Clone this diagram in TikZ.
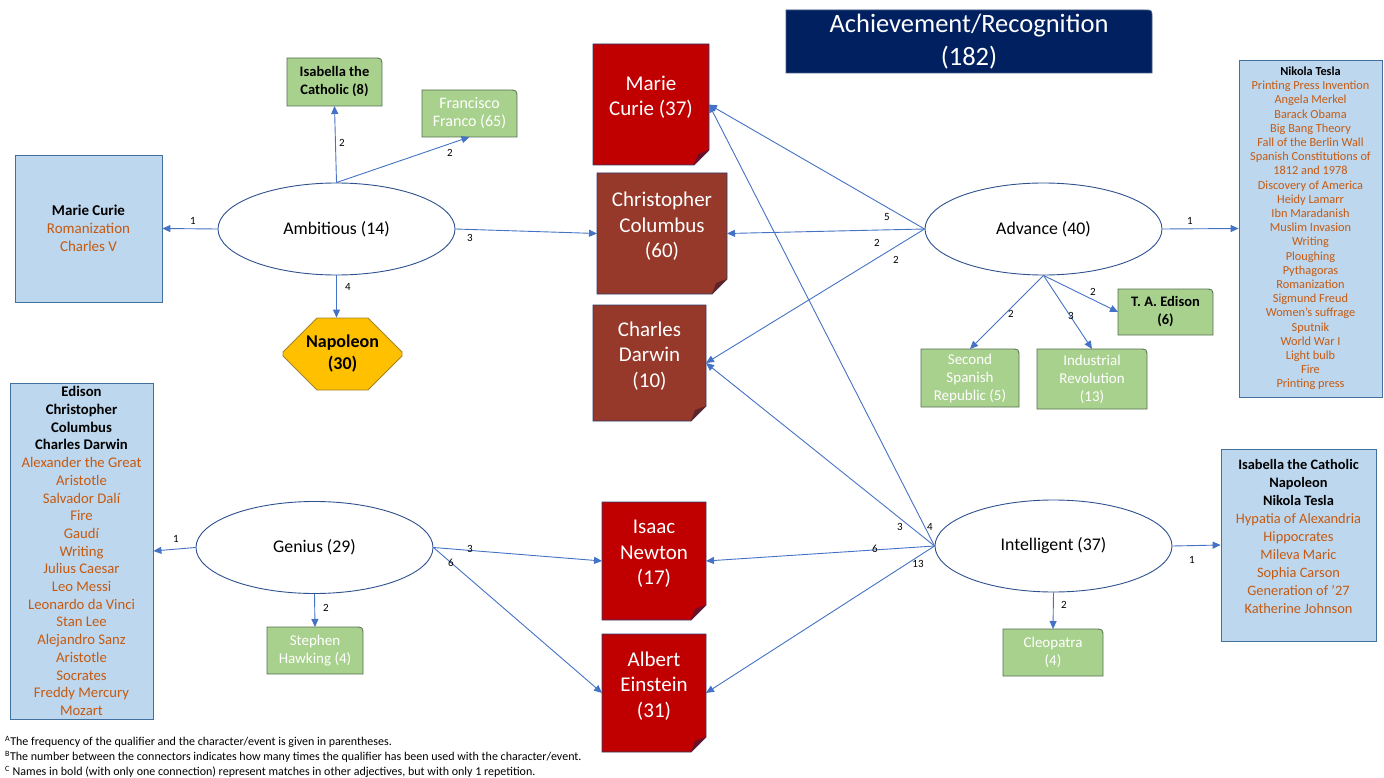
\documentclass[tikz,border=0pt]{standalone}
\usepackage{fontspec}
\setmainfont{Carlito}
\usetikzlibrary{shapes.geometric,shapes.misc,arrows.meta,backgrounds}

\definecolor{connblue}{RGB}{68,114,196}
\definecolor{ellline}{RGB}{47,82,143}
\definecolor{listfill}{RGB}{189,215,238}
\definecolor{listline}{RGB}{65,113,156}
\definecolor{listtxt}{RGB}{197,90,17}
\definecolor{greenfill}{RGB}{169,209,142}
\definecolor{greenline}{RGB}{84,110,80}
\definecolor{notered}{RGB}{192,0,0}
\definecolor{notebrown}{RGB}{150,56,42}
\definecolor{noteline}{RGB}{47,62,110}
\definecolor{foldred}{RGB}{110,15,40}
\definecolor{foldbrown}{RGB}{95,35,40}
\definecolor{napfill}{RGB}{255,192,0}
\definecolor{napline}{RGB}{160,130,40}
\definecolor{titlefill}{RGB}{0,32,96}
\definecolor{titleline}{RGB}{70,90,130}

% extra depth under the last line, so the text sits above the middle
\newcommand{\liftgap}{\rule[-17pt]{0pt}{17pt}}

\tikzset{
  adj/.style={shape=ellipse, draw=ellline, fill=white, line width=0.9pt, minimum width=237pt, minimum height=92pt, inner sep=0pt, font=\fontsize{17.8}{21}\selectfont},
  note/.style={shape=rectangle, inner sep=0pt, outer sep=0pt, text=white, align=center, font=\fontsize{21}{25.5}\selectfont},
  listbox/.style={shape=rectangle, draw=listline, fill=listfill, line width=0.8pt, text=listtxt, align=center, inner sep=0pt},
  greenbox/.style={shape=rectangle, inner sep=0pt, outer sep=0pt, align=center, text=white, font=\fontsize{15}{18}\selectfont},
  greenshape/.style={fill=greenfill, draw=greenline, line width=0.8pt},
  titlebox/.style={shape=rectangle, inner sep=0pt, outer sep=0pt, align=center, text=white, minimum width=366pt, minimum height=63pt, font=\fontsize{26.5}{33}\selectfont},
  titleshape/.style={fill=titlefill, draw=titleline, line width=0.8pt},
  octa/.style={shape=chamfered rectangle, chamfered rectangle xsep=17pt, chamfered rectangle ysep=17pt, fill=napfill, draw=napline, line width=0.8pt, minimum width=119pt, minimum height=72pt, inner sep=0pt, align=center, font=\bfseries\fontsize{18}{22}\selectfont},
  link/.style={draw=connblue, line width=0.9pt, -{Triangle[length=8pt,width=7pt]}},
  num/.style={inner sep=0pt, font=\fontsize{11}{12}\selectfont},
}

\begin{document}
\begin{tikzpicture}[x=1pt, y=1pt]
\useasboundingbox (0,0) rectangle (1384,-778);

% title
\node[titlebox] (title) at (969,-41.5) {Achievement/Recognition\\(182)};

% adjectives
\node[adj] (amb) at (336.5,-229) {Ambitious (14)};
\node[adj] (adv) at (1043.5,-229) {Advance (40)};
\node[adj] (gen) at (314.5,-547.5) {Genius (29)};
\node[adj] (intel) at (1053.5,-546) {Intelligent (37)};

% characters with many qualifiers
\node[note, minimum width=116pt, minimum height=121pt] (curie) at (651,-104.5) {Marie\\Curie (37)\liftgap};
\node[note, minimum width=130pt, minimum height=121pt] (columbus) at (662,-233.5) {Christopher\\Columbus\\(60)\liftgap};
\node[note, minimum width=113pt, minimum height=116pt] (darwin) at (649.5,-363) {Charles\\Darwin\\(10)\liftgap};
\node[note, minimum width=104pt, minimum height=118pt] (newton) at (654,-561) {Isaac\\Newton\\(17)\liftgap};
\node[note, minimum width=104pt, minimum height=118pt] (einstein) at (654,-693) {Albert\\Einstein\\(31)\liftgap};

\node[octa] (nap) at (342.5,-354) {Napoleon\\(30)};

% green boxes
\node[greenbox, minimum width=95pt, minimum height=48pt, text=black, font=\bfseries\fontsize{14.5}{18}\selectfont] (isab) at (334.5,-82) {Isabella the\\Catholic (8)};
\node[greenbox, minimum width=95pt, minimum height=47pt, font=\fontsize{16}{18}\selectfont] (franco) at (469.5,-113.5) {Francisco\\Franco (65)};
\node[greenbox, minimum width=95pt, minimum height=46pt, text=black, font=\bfseries\fontsize{14.5}{18}\selectfont] (edison) at (1165.5,-312) {T. A. Edison\\(6)};
\node[greenbox, minimum width=98pt, minimum height=58pt] (spanish) at (970,-378) {Second\\Spanish\\Republic (5)};
\node[greenbox, minimum width=110pt, minimum height=60pt] (industrial) at (1092,-379) {Industrial\\Revolution\\(13)};
\node[greenbox, minimum width=100pt, minimum height=47pt] (cleo) at (1053,-652.5) {Cleopatra\\(4)};
\node[greenbox, minimum width=96pt, minimum height=47pt] (hawking) at (315,-650.5) {Stephen\\Hawking (4)};

% lists
\node[listbox, minimum width=147pt, minimum height=147pt, font=\fontsize{15}{18}\selectfont] (ambList) at (88.5,-228.5)
  {{\color{black}\bfseries Marie Curie}\\Romanization\\Charles V};
\node[listbox, minimum width=143pt, minimum height=337pt, font=\fontsize{12.3}{14.2}\selectfont] (advList) at (1310.5,-228.5)
  {{\color{black}\bfseries Nikola Tesla}\\Printing Press Invention\\Angela Merkel\\Barack Obama\\Big Bang Theory\\Fall of the Berlin Wall\\Spanish Constitutions of\\1812 and 1978\\Discovery of America\\Heidy Lamarr\\Ibn Maradanish\\Muslim Invasion\\Writing\\Ploughing\\Pythagoras\\Romanization\\Sigmund Freud\\Women’s suffrage\\Sputnik\\World War I\\Light bulb\\Fire\\Printing press};
\node[listbox, minimum width=155pt, minimum height=192pt, font=\fontsize{14.4}{17.9}\selectfont] (intelList) at (1298.5,-545)
  {{\color{black}\bfseries Isabella the Catholic}\\{\color{black}\bfseries Napoleon}\\{\color{black}\bfseries Nikola Tesla}\\Hypatia of Alexandria\\Hippocrates\\Mileva Maric\\Sophia Carson\\Generation of ’27\\Katherine Johnson\liftgap};
\node[listbox, minimum width=143pt, minimum height=336pt, font=\fontsize{14.7}{17.7}\selectfont] (genList) at (81.5,-551)
  {{\color{black}\bfseries Edison}\\{\color{black}\bfseries Christopher}\\{\color{black}\bfseries Columbus}\\{\color{black}\bfseries Charles Darwin}\\Alexander the Great\\Aristotle\\Salvador Dalí\\Fire\\Gaudí\\Writing\\Julius Caesar\\Leo Messi\\Leonardo da Vinci\\Stan Lee\\Alejandro Sanz\\Aristotle\\Socrates\\Freddy Mercury\\Mozart};

% shapes behind the notes, the green boxes and the title
\begin{scope}[on background layer]
\foreach \n/\c/\f in {curie/notered/foldred, columbus/notebrown/foldbrown, darwin/notebrown/foldbrown, newton/notered/foldred, einstein/notered/foldred}{
  \filldraw[fill=\c, draw=noteline, line width=0.8pt] (\n.south west) -- (\n.north west) -- (\n.north east)
    -- ([yshift=15pt]\n.south east) -- ([xshift=-15pt]\n.south east) -- cycle;
  \fill[\f] ([yshift=15pt]\n.south east) -- ([xshift=-15pt]\n.south east) -- ([xshift=-11pt,yshift=11pt]\n.south east) -- cycle;
}
\foreach \b in {isab, franco, edison, spanish, industrial, cleo, hawking}
  \filldraw[greenshape] (\b.south west) -- (\b.north west) -- ([xshift=-9pt]\b.north east)
    .. controls (\b.north east) .. ([yshift=-9pt]\b.north east) -- (\b.south east) -- cycle;
\filldraw[titleshape] (title.south west) -- (title.north west) -- ([xshift=-8pt]title.north east)
  .. controls (title.north east) .. ([yshift=-8pt]title.north east) -- (title.south east) -- cycle;
\end{scope}

% connectors
\draw[link] (amb.west) -- (ambList.east);
\draw[link] (amb.north) -- (isab.south);
\draw[link] (amb.north) -- (franco.south);
\draw[link] (amb.east) -- (columbus.west);
\draw[link] (amb.south) -- (amb.south |- nap.north);
\draw[link] (adv.west) -- (curie.east);
\draw[link] (adv.west) -- (columbus.east);
\draw[link] (adv.west) -- (darwin.east);
\draw[link] (adv.east) -- (advList.west);
\draw[link] (adv.south) -- (spanish.north);
\draw[link] (adv.south) -- (industrial.north);
\draw[link] (adv.south) -- (edison.west);
\draw[link] (intel.west) -- (curie.east);
\draw[link] (intel.west) -- (darwin.east);
\draw[link] (intel.west) -- (newton.east);
\draw[link] (intel.west) -- (einstein.east);
\draw[link] (intel.east) -- (intelList.west);
\draw[link] (intel.south) -- (cleo.north);
\draw[link] (gen.west) -- (genList.east);
\draw[link] (gen.east) -- (newton.west);
\draw[link] (gen.east) -- (einstein.west);
\draw[link] (gen.south) -- (hawking.north);

% counts on the connectors
\node[num] (amb1) at (193,-221) {1};
\node[num] (amb2) at (342,-143) {2};
\node[num] (amb3) at (450,-153) {2};
\node[num] (amb4) at (470,-238) {3};
\node[num] (amb5) at (348,-287) {4};
\node[num] (adv1) at (887,-217) {5};
\node[num] (adv2) at (877,-243) {2};
\node[num] (adv3) at (896,-260) {2};
\node[num] (adv4) at (1190,-221) {1};
\node[num] (adv5) at (1011,-314) {2};
\node[num] (adv6) at (1071,-316) {3};
\node[num] (adv7) at (1093,-292) {2};
\node[num] (int1) at (930,-527) {4};
\node[num] (int2) at (900,-527) {3};
\node[num] (int3) at (875,-549) {6};
\node[num] (int4) at (918,-564) {13};
\node[num] (int5) at (1192,-560) {1};
\node[num] (int6) at (1064,-605) {2};
\node[num] (gen1) at (176,-539) {1};
\node[num] (gen2) at (470,-549) {3};
\node[num] (gen3) at (451,-563) {6};
\node[num] (gen4) at (326,-608) {2};

% footnotes
\node[anchor=west, align=left, inner sep=0pt, font=\fontsize{12}{15}\selectfont] (notes) at (5,-757)
  {\textsuperscript{A}The frequency of the qualifier and the character/event is given in parentheses.\\
   \textsuperscript{B}The number between the connectors indicates how many times the qualifier has been used with the character/event.\\
   \textsuperscript{C}\ Names in bold (with only one connection) represent matches in other adjectives, but with only 1 repetition.};
\end{tikzpicture}
\end{document}
